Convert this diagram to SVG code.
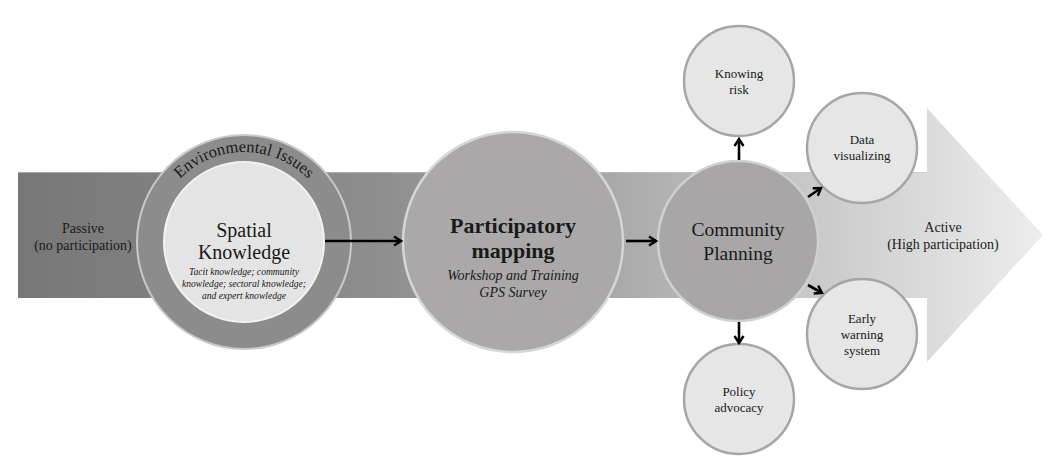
<svg xmlns="http://www.w3.org/2000/svg" width="1056" height="459" viewBox="0 0 1056 459">
<defs>
<linearGradient id="bandGrad" gradientUnits="userSpaceOnUse" x1="18" y1="0" x2="1043" y2="0">
<stop offset="0" stop-color="#777777"/>
<stop offset="0.35" stop-color="#8e8e8e"/>
<stop offset="0.58" stop-color="#a9a9a9"/>
<stop offset="0.8" stop-color="#cdcdcd"/>
<stop offset="1" stop-color="#ededed"/>
</linearGradient>
<marker id="chev" viewBox="0 0 12 12" refX="10" refY="6" markerWidth="12" markerHeight="12" markerUnits="userSpaceOnUse" orient="auto">
<polyline points="3,1.5 10,6 3,10.5" fill="none" stroke="#000" stroke-width="2.4" stroke-linejoin="miter"/>
</marker>
<path id="envArc" d="M 154,242 A 90 90 0 0 1 334,242"/>
</defs>
<style>
.serif{font-family:"Liberation Serif","Times New Roman",serif;fill:#1a1a1a;text-anchor:middle}
.lbl{font-size:14px}
.big{font-size:20px}
.small{font-size:13px}
.tiny{font-size:9.6px;font-style:italic}
.sat{fill:#e6e6e6;stroke:#a6a6a6;stroke-width:2.5}
.conn{stroke:#000;stroke-width:2.6;fill:none;marker-end:url(#chev)}
</style>

<g id="band">
<path d="M18,172 H927 V108 L1043,235 L927,362 V298 H18 Z" fill="url(#bandGrad)"/>
<line x1="18" y1="172.5" x2="927" y2="172.5" stroke="#c8c8c8" stroke-width="1" opacity="0.6"/>
<text class="serif lbl" x="83" y="233">Passive</text>
<text class="serif lbl" x="83" y="250">(no participation)</text>
<text class="serif lbl" x="943" y="232">Active</text>
<text class="serif lbl" x="943" y="249">(High participation)</text>
</g>

<g id="spatial-knowledge">
<circle cx="244" cy="242" r="107" fill="#8c8c8c" stroke="#c9c9c9" stroke-width="2"/>
<circle cx="244" cy="242" r="80" fill="#e4e4e4" stroke="#f2f2f2" stroke-width="2"/>
<text class="serif" font-size="16.5"><textPath href="#envArc" startOffset="50%">Environmental Issues</textPath></text>
<text class="serif big" x="244" y="237">Spatial</text>
<text class="serif big" x="244" y="259">Knowledge</text>
<text class="serif tiny" x="244" y="275">Tacit knowledge; community</text>
<text class="serif tiny" x="244" y="287">knowledge; sectoral knowledge;</text>
<text class="serif tiny" x="244" y="299">and expert knowledge</text>
</g>

<g id="participatory-mapping">
<circle cx="513" cy="242" r="110" fill="#aaa8a8" stroke="#d6d6d6" stroke-width="2.5"/>
<text class="serif" font-size="22" font-weight="bold" x="513" y="233">Participatory</text>
<text class="serif" font-size="22" font-weight="bold" x="513" y="258">mapping</text>
<text class="serif lbl" font-style="italic" x="513" y="280">Workshop and Training</text>
<text class="serif lbl" font-style="italic" x="513" y="297">GPS Survey</text>
</g>

<g id="community-planning">
<circle cx="738" cy="241" r="80" fill="#a8a6a6" stroke="#d0d0d0" stroke-width="2.5"/>
<text class="serif" font-size="19.5" x="738" y="236">Community</text>
<text class="serif" font-size="19.5" x="738" y="260">Planning</text>
</g>

<g id="knowing-risk">
<circle class="sat" cx="739" cy="81" r="55"/>
<text class="serif small" x="739" y="78">Knowing</text>
<text class="serif small" x="739" y="94">risk</text>
</g>

<g id="data-visualizing">
<circle class="sat" cx="862" cy="148" r="55"/>
<text class="serif small" x="862" y="144">Data</text>
<text class="serif small" x="862" y="160">visualizing</text>
</g>

<g id="early-warning-system">
<circle class="sat" cx="862" cy="334" r="55"/>
<text class="serif small" x="862" y="323">Early</text>
<text class="serif small" x="862" y="339">warning</text>
<text class="serif small" x="862" y="355">system</text>
</g>

<g id="policy-advocacy">
<circle class="sat" cx="739" cy="399" r="55"/>
<text class="serif small" x="739" y="396">Policy</text>
<text class="serif small" x="739" y="412">advocacy</text>
</g>

<g id="connectors">
<line class="conn" x1="325" y1="241" x2="401" y2="241"/>
<line class="conn" x1="626" y1="241" x2="656" y2="241"/>
<line class="conn" x1="739" y1="160" x2="739" y2="139"/>
<line class="conn" x1="739" y1="322" x2="739" y2="343"/>
<line class="conn" x1="808" y1="197" x2="821" y2="188"/>
<line class="conn" x1="808" y1="285" x2="822" y2="293"/>
</g>
</svg>
